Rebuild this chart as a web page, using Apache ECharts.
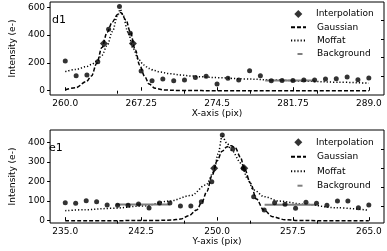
<!DOCTYPE html>
<html><head><meta charset="utf-8">
<script src="https://cdn.jsdelivr.net/npm/echarts@6/dist/echarts.min.js"></script>
<style>html,body{margin:0;padding:0;background:#fff}#c{width:387px;height:251px}</style>
</head><body><div id="c"></div>
<script>
// ---------- top panel (d1) ----------
const topX = [260, 261.04, 262.07, 263.11, 264.14, 265.18, 266.21, 267.25, 268.29, 269.32, 270.36, 271.39, 272.43, 273.46, 274.5, 275.54, 276.57, 277.61, 278.64, 279.68, 280.71, 281.75, 282.79, 283.82, 284.86, 285.89, 286.93, 287.96, 289];
const topY = [214, 108, 113, 209, 442, 605, 413, 142, 72, 84, 72, 77, 94, 103, 48, 89, 77, 144, 108, 72, 74, 74, 77, 77, 84, 86, 98, 79, 91];
const topInterpX = [263.69, 266.46];
const topInterpY = [340, 340];
const topGaussX = [260, 261, 262, 262.5, 263, 263.5, 264, 264.5, 265, 265.3, 265.8, 266.2, 266.7, 267.1, 267.6, 268, 268.6, 269.5, 271, 275, 280, 285, 289];
const topGaussY = [5, 22, 65, 105, 195, 310, 420, 495, 548, 562, 509, 425, 293, 185, 101, 48, 17, 5, 1, 0, 0, 0, 0];
const topMoffX = [260, 261, 262, 262.5, 263, 263.5, 264, 264.5, 265, 265.25, 265.5, 266, 266.5, 267, 267.5, 268, 268.5, 269, 270, 271, 272, 273, 274.5, 277, 280, 283, 286, 289];
const topMoffY = [137, 153, 172, 188, 212, 255, 325, 425, 540, 585, 545, 420, 300, 225, 185, 160, 145, 135, 122, 113, 106, 100, 94, 85, 77, 68, 61, 54];
const topBgX = [279.1, 283.8];
const topBgY = [74, 74];
const topXTicks = [260, 267.25, 274.5, 281.75, 289];
const topXLabels = ['260.0', '267.25', '274.5', '281.75', '289.0'];
const topYTicks = [0, 200, 400, 600];
const topTopTicks = [264.96, 271.36, 277.7, 284.05];
const topRightTicks = [101, 237, 373, 509];

// ---------- bottom panel (e1) ----------
const botX = [235, 236.03, 237.07, 238.10, 239.14, 240.17, 241.21, 242.24, 243.28, 244.31, 245.34, 246.38, 247.41, 248.45, 249.48, 250.52, 251.55, 252.59, 253.62, 254.66, 255.69, 256.72, 257.76, 258.79, 259.83, 260.86, 261.90, 262.93, 263.97, 265];
const botY = [92, 89, 102, 97, 80, 79, 79, 85, 65, 90, 90, 75, 75, 97, 199, 437, 366, 267, 122, 55, 92, 84, 63, 94, 89, 79, 101, 101, 66, 80];
const botInterpX = [249.72, 252.69];
const botInterpY = [267, 267];
const botGaussX = [235, 240, 244, 245.5, 246.4, 247.2, 248, 248.5, 249, 249.5, 250, 250.5, 251, 251.4, 251.8, 252.3, 252.7, 253.3, 253.9, 254.6, 255.5, 256.7, 258, 260, 265];
const botGaussY = [0, 0, 1, 3, 8, 25, 55, 95, 150, 230, 305, 355, 378, 383, 372, 325, 267, 191, 110, 55, 20, 5, 1, 0, 0];
const botMoffX = [235, 237, 239.6, 242.7, 245.3, 247.4, 248.9, 249.7, 250.1, 250.5, 251, 251.4, 252.4, 253, 253.6, 254.7, 256.1, 258.6, 261.7, 265];
const botMoffY = [51, 56, 63, 75, 100, 128, 182, 250, 340, 430, 395, 361, 293, 216, 157, 122, 100, 84, 66, 53];
const botBgX = [240.0, 245.3, 250, 254.7, 259.7];
const botBgY = [82, 82, '-', 81, 81];
const botXTicks = [235, 242.5, 250, 257.5, 265];
const botXLabels = ['235.0', '242.5', '250.0', '257.5', '265.0'];
const botYTicks = [0, 100, 200, 300, 400];
const botTopTicks = [240.13, 246.75, 253.31, 259.87];
const botRightTicks = [75, 170, 267, 366];

const FONT = 'DejaVu Sans';
const pairs = (xs, ys) => xs.map((x, i) => [x, ys[i]]);

function xMain(gi, min, max, ticks, labels, name) {
  return {
    type: 'value', gridIndex: gi, min: min, max: max, position: 'bottom',
    name: name, nameLocation: 'middle', nameGap: 14.5,
    nameTextStyle: { fontFamily: FONT, fontSize: 9, color: '#000' },
    axisLine: { show: false }, splitLine: { show: false },
    axisTick: { show: true, inside: true, length: 3.5, customValues: ticks, lineStyle: { color: '#000', width: 1 } },
    axisLabel: {
      customValues: ticks, margin: 4.5, fontFamily: FONT, fontSize: 9, color: '#000',
      formatter: function (v) { const i = ticks.findIndex(t => Math.abs(t - v) < 1e-6); return i >= 0 ? labels[i] : ''; }
    }
  };
}
function xTop(gi, min, max, ticks) {
  return {
    type: 'value', gridIndex: gi, min: min, max: max, position: 'top',
    axisLine: { show: false }, splitLine: { show: false }, axisLabel: { show: false },
    axisTick: { show: true, inside: true, length: 3, customValues: ticks, lineStyle: { color: '#000', width: 1 } }
  };
}
function yMain(gi, min, max, ticks) {
  return {
    type: 'value', gridIndex: gi, min: min, max: max, position: 'left',
    name: 'Intensity (e-)', nameLocation: 'middle', nameGap: 23,
    nameTextStyle: { fontFamily: FONT, fontSize: 9, color: '#000' },
    axisLine: { show: false }, splitLine: { show: false },
    axisTick: { show: true, inside: false, length: 3, customValues: ticks, lineStyle: { color: '#000', width: 1 } },
    axisLabel: { customValues: ticks, margin: 5, fontFamily: FONT, fontSize: 9, color: '#000' }
  };
}
function yRight(gi, min, max, ticks) {
  return {
    type: 'value', gridIndex: gi, min: min, max: max, position: 'right',
    axisLine: { show: false }, splitLine: { show: false }, axisLabel: { show: false },
    axisTick: { show: true, inside: true, length: 3, customValues: ticks, lineStyle: { color: '#000', width: 1 } }
  };
}
function panelSeries(ai, dx, dy, ix, iy, gx, gy, mx, my, bx, by) {
  return [
    { type: 'scatter', name: 'Data', xAxisIndex: ai, yAxisIndex: ai, data: pairs(dx, dy), symbol: 'circle', symbolSize: 5, itemStyle: { color: '#000' }, z: 4, silent: true },
    { type: 'line', name: 'Gaussian', xAxisIndex: ai, yAxisIndex: ai, data: pairs(gx, gy), symbol: 'none', smooth: 0.35, smoothMonotone: 'x', itemStyle: { color: '#000' }, lineStyle: { color: '#000', width: 1.5, type: [4, 2] }, z: 3, silent: true },
    { type: 'line', name: 'Moffat', xAxisIndex: ai, yAxisIndex: ai, data: pairs(mx, my), symbol: 'none', smooth: 0.35, smoothMonotone: 'x', itemStyle: { color: '#000' }, lineStyle: { color: '#000', width: 1.5, type: [1.2, 2] }, z: 3, silent: true },
    { type: 'line', name: 'Background', xAxisIndex: ai, yAxisIndex: ai, data: pairs(bx, by), symbol: 'none', connectNulls: false, itemStyle: { color: '#7f7f7f' }, lineStyle: { color: '#7f7f7f', width: 2 }, z: 3, silent: true },
    { type: 'scatter', name: 'Interpolation', xAxisIndex: ai, yAxisIndex: ai, data: pairs(ix, iy), symbol: 'diamond', symbolSize: 8, itemStyle: { color: '#000' }, z: 5, silent: true }
  ];
}
const hideSym = { itemStyle: { color: 'rgba(0,0,0,0)', borderWidth: 0, opacity: 0 } };
function legendRow(name, top, left, iw, ih, pad, extra) {
  return Object.assign({
    data: [name], top: top, left: left, itemWidth: iw, itemHeight: ih, padding: 0, selectedMode: false,
    textStyle: { fontFamily: FONT, fontSize: 9, color: '#000', padding: [0, 0, 0, pad], lineHeight: 11 }
  }, extra || {});
}
function legends(c0, c1, c2, c3) {
  return [
    legendRow('Interpolation', c0 - 5.5, 294.3, 8, 8, 8.7),
    legendRow('Gaussian', c1 - 5.5, 290, 15, 8, 6, hideSym),
    legendRow('Moffat', c2 - 5.5, 290, 15, 8, 6, hideSym),
    legendRow('Background', c3 - 5.5, 296.5, 5, 8, 9.5, hideSym)
  ];
}

const chart = echarts.init(document.getElementById('c'), null, { renderer: 'canvas' });
chart.setOption({
  animation: false,
  backgroundColor: '#fff',
  grid: [
    { left: 32, top: 2, width: 352, height: 93, show: true, borderColor: '#000', borderWidth: 1, backgroundColor: 'transparent' },
    { left: 32, top: 130, width: 352, height: 93, show: true, borderColor: '#000', borderWidth: 1, backgroundColor: 'transparent' }
  ],
  xAxis: [
    xMain(0, 258.55, 290.45, topXTicks, topXLabels, 'X-axis (pix)'),
    xTop(0, 258.55, 290.45, topTopTicks),
    xMain(1, 233.5, 266.5, botXTicks, botXLabels, 'Y-axis (pix)'),
    xTop(1, 233.5, 266.5, botTopTicks)
  ],
  yAxis: [
    yMain(0, -31, 638, topYTicks),
    yRight(0, -31, 638, topRightTicks),
    yMain(1, -12, 463, botYTicks),
    yRight(1, -12, 463, botRightTicks)
  ],
  legend: legends(14, 27.3, 40.6, 54).concat(legends(142.3, 156.8, 171.3, 185.7)),
  series: panelSeries(0, topX, topY, topInterpX, topInterpY, topGaussX, topGaussY, topMoffX, topMoffY, topBgX, topBgY)
    .concat(panelSeries(2, botX, botY, botInterpX, botInterpY, botGaussX, botGaussY, botMoffX, botMoffY, botBgX, botBgY)),
  graphic: [
    { type: 'text', left: 52, top: 15, style: { text: 'd1', font: '11px "DejaVu Sans"', fill: '#000' } },
    { type: 'text', left: 49, top: 143, style: { text: 'e1', font: '11px "DejaVu Sans"', fill: '#000' } }
  ]
});
</script>
</body></html>
